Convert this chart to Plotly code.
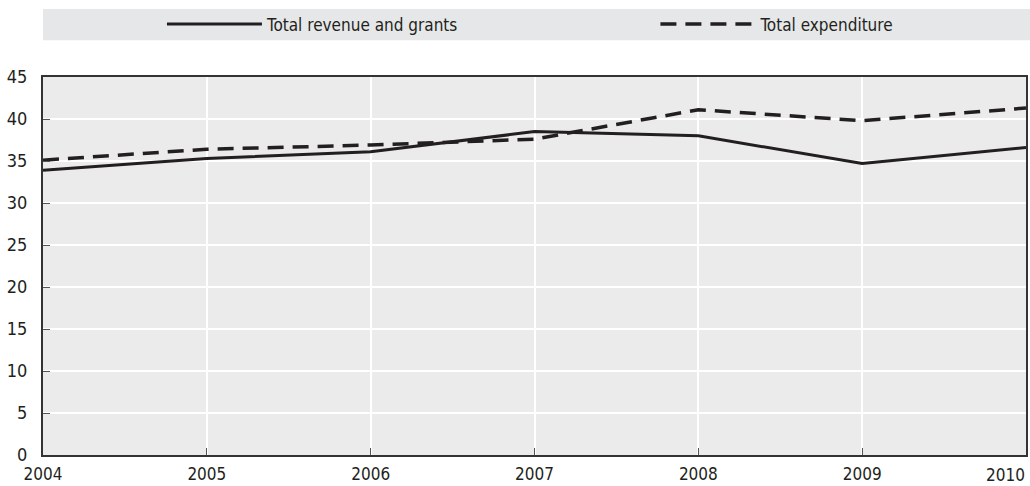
import plotly.graph_objects as go

years = [2004, 2005, 2006, 2007, 2008, 2009, 2010]
year_labels = ["2004", "2005", "2006", "2007", "2008", "2009", "2010"]
revenue = [33.9, 35.3, 36.1, 38.5, 38.0, 34.7, 36.6]
expenditure = [35.1, 36.4, 36.9, 37.6, 41.1, 39.8, 41.3]
y_ticks = [0, 5, 10, 15, 20, 25, 30, 35, 40, 45]

FONT = "Liberation Sans Narrow, Arial Narrow, DejaVu Sans Condensed, sans-serif"
INK = "#231f20"

fig = go.Figure()
fig.add_trace(go.Scatter(x=years, y=revenue, mode="lines", name="Total revenue and grants",
                         line=dict(color=INK, width=3), legend="legend"))
fig.add_trace(go.Scatter(x=years, y=expenditure, mode="lines", name="Total expenditure",
                         line=dict(color=INK, width=3.5, dash="16px,9px"), legend="legend2"))

# legend band
fig.add_shape(type="rect", xref="paper", yref="paper", x0=0, x1=1.005, y0=1.097, y1=1.18,
              fillcolor="#e6e7e8", line=dict(width=0), layer="below")

# last year label sits right-aligned at the plot edge, as in the reference
fig.add_annotation(x=years[-1], xref="x", y=0, yref="paper", text=year_labels[-1],
                   showarrow=False, xanchor="right", yanchor="top", yshift=-9,
                   font=dict(size=17), borderpad=0)

leg_common = dict(orientation="h", yanchor="middle", y=1.139, xanchor="left",
                  bgcolor="rgba(0,0,0,0)", font=dict(size=17), itemwidth=95)

fig.update_layout(
    width=1030, height=486,
    margin=dict(l=43, r=4, t=77, b=31, autoexpand=False),
    paper_bgcolor="white", plot_bgcolor="#ebebeb",
    font=dict(family=FONT, size=18, color="#231f20"),
    showlegend=True,
    legend=dict(x=0.121, **leg_common),
    legend2=dict(x=0.623, **leg_common),
    xaxis=dict(range=[2004, 2010], tickvals=years[:-1], ticktext=year_labels[:-1],
               tickfont=dict(size=17),
               showgrid=True, gridcolor="white", gridwidth=1.5,
               showline=True, linecolor="#333333", linewidth=2, mirror=True,
               ticks="inside", ticklen=7, tickcolor="#555555", zeroline=False,
               automargin=False, ticklabelstandoff=3, ticklabeloverflow="allow"),
    yaxis=dict(range=[0, 45], tickvals=y_ticks,
               showgrid=True, gridcolor="white", gridwidth=1.5,
               showline=True, linecolor="#333333", linewidth=2, mirror=True,
               ticks="inside", ticklen=7, tickcolor="#555555", zeroline=False,
               ticklabelstandoff=10, automargin=False, ticklabeloverflow="allow"),
)

fig.write_html("out.html", config={"displayModeBar": False},
               post_script="document.body.style.margin='0';document.body.style.overflow='hidden';")
